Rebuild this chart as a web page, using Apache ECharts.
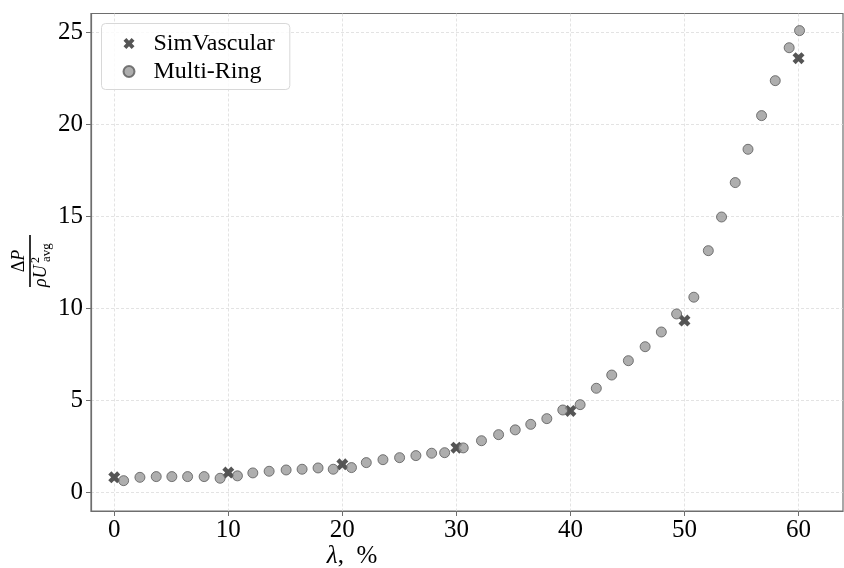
<!DOCTYPE html>
<html>
<head>
<meta charset="utf-8">
<script src="https://cdn.jsdelivr.net/npm/echarts@6/dist/echarts.min.js"></script>
<style>html,body{margin:0;padding:0;background:#fff;}#c{width:844px;height:568px;}</style>
</head>
<body>
<div id="c"></div>
<script>
// SimVascular reference points
const simX = [0, 10, 20, 30, 40, 50, 60];
const simY = [0.81, 1.07, 1.52, 2.42, 4.42, 9.33, 23.59];
// Multi-Ring points
const ringX = [0.82, 2.25, 3.68, 5.05, 6.43, 7.88, 9.28, 10.8, 12.15, 13.58, 15.07, 16.47, 17.87, 19.2, 20.8, 22.1, 23.56, 25.02, 26.45, 27.83, 28.97, 30.6, 32.2, 33.7, 35.16, 36.52, 37.93, 39.33, 40.85, 42.27, 43.62, 45.08, 46.55, 47.97, 49.31, 50.82, 52.09, 53.25, 54.45, 55.57, 56.76, 57.96, 59.18, 60.09];
const ringY = [0.63, 0.81, 0.85, 0.85, 0.85, 0.85, 0.76, 0.89, 1.05, 1.14, 1.21, 1.25, 1.32, 1.25, 1.34, 1.61, 1.77, 1.88, 1.99, 2.12, 2.15, 2.41, 2.80, 3.13, 3.39, 3.69, 4.0, 4.47, 4.76, 5.65, 6.37, 7.15, 7.91, 8.71, 9.69, 10.6, 13.13, 14.96, 16.83, 18.64, 20.47, 22.37, 24.16, 25.09];
const xTicks = [0, 10, 20, 30, 40, 50, 60];
const yTicks = [0, 5, 10, 15, 20, 25];
const seriesNames = ['SimVascular', 'Multi-Ring'];

const FONT = 'Liberation Serif';
const X_ICON = 'path://M0,2.6L2.6,0L5,2.4L7.4,0L10,2.6L7.6,5L10,7.4L7.4,10L5,7.6L2.6,10L0,7.4L2.4,5Z';

const chart = echarts.init(document.getElementById('c'), null, {renderer: 'canvas'});
const axisCommon = {
  type: 'value',
  axisLine: {show: true, onZero: false, lineStyle: {color: '#6e6e6e', width: 1.2}},
  splitLine: {show: true, lineStyle: {color: '#dcdcdc', type: [3, 2], width: 0.8}}
};
const option = {
  backgroundColor: '#fff',
  animation: false,
  grid: {left: 91, top: 13.5, right: 1, bottom: 57, show: true, borderColor: '#6e6e6e', borderWidth: 1.2, containLabel: false},
  xAxis: Object.assign({}, axisCommon, {
    min: -2.04, max: 63.9,
    axisTick: {show: true, length: 5, lineStyle: {color: '#6e6e6e'}, customValues: xTicks},
    axisLabel: {customValues: xTicks, color: '#000', fontFamily: FONT, fontSize: 25, margin: 7}
  }),
  yAxis: Object.assign({}, axisCommon, {
    min: -1.02, max: 26.02,
    axisTick: {show: true, length: 5, lineStyle: {color: '#6e6e6e'}, customValues: yTicks},
    axisLabel: {customValues: yTicks, color: '#000', fontFamily: FONT, fontSize: 25, margin: 8}
  }),
  legend: {
    orient: 'vertical', left: 101.5, top: 23.5,
    data: [{name: seriesNames[0], icon: X_ICON}, {name: seriesNames[1], icon: 'circle'}],
    itemWidth: 11, itemHeight: 11, itemGap: 4,
    padding: [8, 15, 6, 21],
    backgroundColor: 'rgba(255,255,255,0.8)', borderColor: '#d8d8d8', borderWidth: 1, borderRadius: 4,
    textStyle: {fontFamily: FONT, fontSize: 24, color: '#000', padding: [0, 0, 0, 14]}
  },
  series: [
    {
      name: seriesNames[0], type: 'scatter', symbol: X_ICON, symbolSize: 12, z: 2,
      itemStyle: {color: '#2b2b2b'},
      data: simX.map((x, i) => [x, simY[i]])
    },
    {
      name: seriesNames[1], type: 'scatter', symbol: 'circle', symbolSize: 10, z: 3,
      itemStyle: {color: '#9a9a9a', borderColor: '#5a5a5a', borderWidth: 1},
      data: ringX.map((x, i) => [x, ringY[i]])
    }
  ],
  graphic: [
    {
      type: 'text', x: 352, y: 556,
      style: {
        text: '{i|λ},  %', align: 'center', verticalAlign: 'middle',
        fontFamily: FONT, fontSize: 25, fill: '#000',
        rich: {i: {fontStyle: 'italic', fontFamily: FONT, fontSize: 25}}
      }
    },
    {
      type: 'group', x: 30, y: 261, rotation: Math.PI / 2,
      children: [
        {type: 'text', style: {text: '{r|Δ}{i|P}', x: 0, y: -11, align: 'center', verticalAlign: 'middle', fontFamily: FONT, fontSize: 18, fill: '#000',
          rich: {r: {fontFamily: FONT, fontSize: 18}, i: {fontFamily: FONT, fontSize: 18, fontStyle: 'italic'}}}},
        {type: 'rect', shape: {x: -26, y: -0.8, width: 52, height: 1.6}, style: {fill: '#000'}},
        {type: 'text', style: {text: 'ρU', x: -26, y: 11, align: 'left', verticalAlign: 'middle', fontFamily: FONT, fontSize: 18, fontStyle: 'italic', fill: '#000'}},
        {type: 'text', style: {text: '2', x: -2, y: 6, align: 'left', verticalAlign: 'middle', fontFamily: FONT, fontSize: 12, fill: '#000'}},
        {type: 'text', style: {text: 'avg', x: -1, y: 17, align: 'left', verticalAlign: 'middle', fontFamily: FONT, fontSize: 13, fill: '#000'}}
      ]
    }
  ]
};
chart.setOption(option);
</script>
</body>
</html>
